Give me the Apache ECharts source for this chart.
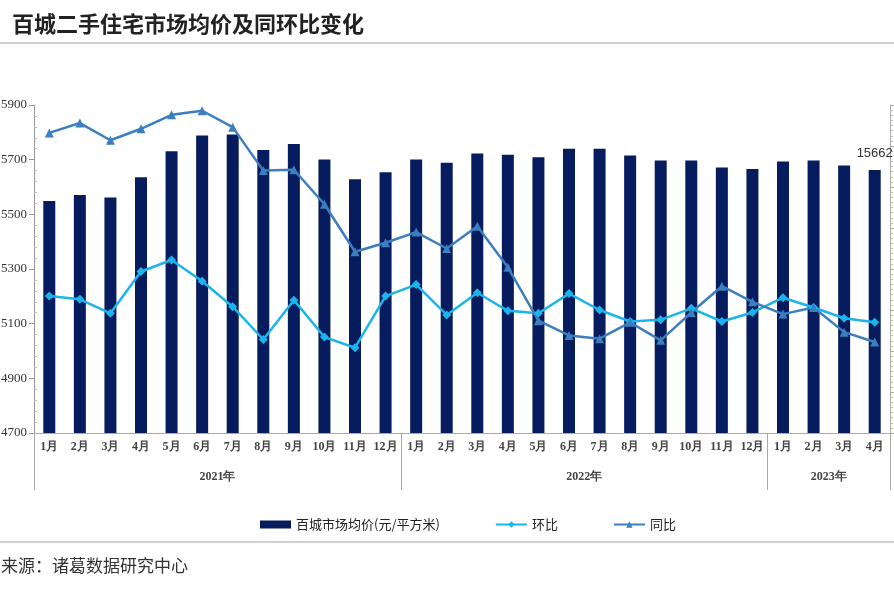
<!DOCTYPE html>
<html>
<head>
<meta charset="utf-8">
<script src="https://cdn.jsdelivr.net/npm/echarts@6/dist/echarts.min.js"></script>
<style>html,body{margin:0;padding:0;background:#fff;}#c{width:894px;height:596px;}</style>
</head>
<body>
<div id="c"></div>
<script>
const months = ['1月','2月','3月','4月','5月','6月','7月','8月','9月','10月','11月','12月',
                '1月','2月','3月','4月','5月','6月','7月','8月','9月','10月','11月','12月',
                '1月','2月','3月','4月'];
const yearLabels = ['2021年','2022年','2023年'];
const yearSpans = [12, 12, 4];
const price = [15549,15571,15562,15636,15731,15788,15792,15735,15757,15701,15628,15654,
               15701,15689,15723,15718,15709,15740,15740,15715,15697,15697,15671,15666,
               15693,15697,15679,15662];
const mom = [0.17,0.13,-0.04,0.47,0.61,0.35,0.04,-0.36,0.12,-0.33,-0.46,0.17,
             0.31,-0.06,0.21,-0.01,-0.04,0.20,0.00,-0.14,-0.12,0.02,-0.14,-0.03,
             0.15,0.03,-0.10,-0.15];
const yoy = [2.16,2.28,2.07,2.21,2.38,2.43,2.23,1.70,1.71,1.29,0.71,0.82,
             0.95,0.75,1.02,0.52,-0.13,-0.31,-0.35,-0.15,-0.37,-0.03,0.29,0.10,
             -0.05,0.03,-0.27,-0.39];
const leftTicks = [14700,14900,15100,15300,15500,15700,15900];
const seriesNames = ['百城市场均价(元/平方米)','环比','同比'];

const minorLeft = [];
for (let v = 14700; v <= 15900; v += 40) { if ((v - 14700) % 200 !== 0) minorLeft.push(v); }
const yearBounds = [0]; const yearCenters = [];
yearSpans.forEach((s, i) => { const st = yearBounds[i]; yearCenters.push(st + s / 2); yearBounds.push(st + s); });

const navy = '#061c5e', sky = '#1bb5ec', steel = '#3b7fc0';
const serif = 'Liberation Serif';
const sans = 'Noto Sans CJK SC';
const last = price.length - 1;

const chart = echarts.init(document.getElementById('c'));
chart.setOption({
  animation: false,
  backgroundColor: '#fff',
  title: [
    { text: '百城二手住宅市场均价及同环比变化', left: 7, top: 8,
      textStyle: { fontFamily: sans, fontWeight: 'bold', fontSize: 22, color: '#222' } },
    { text: '来源：诸葛数据研究中心', left: -4, top: 552,
      textStyle: { fontFamily: sans, fontWeight: 'normal', fontSize: 17, color: '#333' } }
  ],
  graphic: [
    { type: 'rect', shape: { x: 0, y: 42, width: 894, height: 2 }, style: { fill: '#d0d0d0' } },
    { type: 'rect', shape: { x: 0, y: 541, width: 894, height: 2 }, style: { fill: '#d0d0d0' } }
  ],
  grid: { left: 34, right: 4, top: 105, bottom: 163, containLabel: false, outerBoundsMode: 'none' },
  legend: {
    left: 255, top: 513, itemGap: 55, itemWidth: 31, itemHeight: 8,
    textStyle: { fontFamily: sans, fontSize: 13, color: '#222' },
    data: [
      { name: seriesNames[0], icon: 'rect' },
      { name: seriesNames[1] },
      { name: seriesNames[2] }
    ]
  },
  xAxis: [
    { type: 'category', data: months, position: 'bottom',
      axisLine: { onZero: false, lineStyle: { color: '#aaa' } },
      axisTick: { length: 30, lineStyle: { color: '#aaa' } },
      axisLabel: { interval: 0, margin: 8, fontFamily: serif, fontSize: 12, color: '#444', fontWeight: 'bold' },
      splitLine: { show: false } },
    { type: 'value', position: 'bottom', min: 0, max: months.length, interval: 1,
      axisLine: { show: false, onZero: false },
      axisTick: { show: true, length: 57, customValues: yearBounds, lineStyle: { color: '#aaa' } },
      axisLabel: { customValues: yearCenters, margin: 38, fontFamily: serif, fontSize: 12, color: '#444', fontWeight: 'bold',
        formatter: v => { const i = yearCenters.indexOf(v); return i >= 0 ? yearLabels[i] : ''; } },
      splitLine: { show: false } }
  ],
  yAxis: [
    { type: 'value', position: 'left', min: 14700, max: 15900, interval: 100,
      axisLine: { show: true, onZero: false, lineStyle: { color: '#999' } },
      axisTick: { show: true, length: 5, customValues: leftTicks, lineStyle: { color: '#999' } },
      axisLabel: { customValues: leftTicks, margin: 7, fontFamily: serif, fontSize: 13, color: '#333',
        formatter: v => String(v) },
      splitLine: { show: false } },
    { type: 'value', position: 'right', min: -1.5, max: 2.5, interval: 0.5,
      axisLine: { show: true, onZero: false, lineStyle: { color: '#aaa' } },
      axisTick: { show: true, length: 4, lineStyle: { color: '#aaa' } },
      minorTick: { show: true, splitNumber: 8, length: 3, lineStyle: { color: '#bbb' } },
      axisLabel: { show: false },
      splitLine: { show: false } },
    { type: 'value', position: 'left', min: 14700, max: 15900, interval: 100,
      axisLine: { show: false, onZero: false },
      axisTick: { show: true, inside: true, length: 3, customValues: minorLeft, lineStyle: { color: '#bbb' } },
      axisLabel: { show: false },
      splitLine: { show: false } }
  ],
  series: [
    { name: seriesNames[0], type: 'bar', xAxisIndex: 0, yAxisIndex: 0, barWidth: 12,
      itemStyle: { color: navy },
      data: price.map((v, i) => i === last ? { value: v, label: { show: true } } : v),
      label: { show: false, position: 'top', distance: 10, fontFamily: 'Liberation Sans', fontSize: 13, color: '#333' } },
    { name: seriesNames[1], type: 'line', xAxisIndex: 0, yAxisIndex: 1, data: mom,
      symbol: 'diamond', symbolSize: 9,
      lineStyle: { color: sky, width: 2.5 }, itemStyle: { color: sky } },
    { name: seriesNames[2], type: 'line', xAxisIndex: 0, yAxisIndex: 1, data: yoy,
      symbol: 'triangle', symbolSize: 9,
      lineStyle: { color: steel, width: 2.5 }, itemStyle: { color: steel } }
  ]
});
</script>
</body>
</html>
